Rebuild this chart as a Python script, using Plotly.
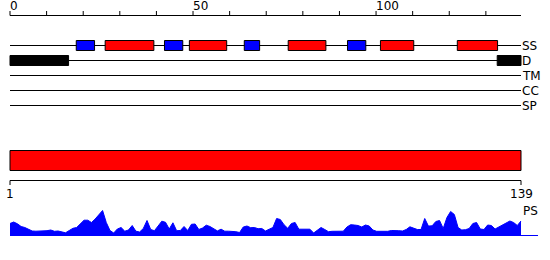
import plotly.graph_objects as go

# ---------------- data ----------------
seq_length = 139
ruler_end = 139.6
ruler_ticks = list(range(0, 140, 10))
ruler_labels = [0, 50, 100]
track_names = ["SS", "D", "TM", "CC", "SP"]

helix_start = [26.0, 49.0, 76.0, 101.2, 122.2]
helix_end = [39.3, 59.2, 86.3, 110.3, 133.2]
strand_start = [18.1, 42.2, 64.0, 92.2]
strand_end = [23.1, 47.2, 68.2, 97.2]
disorder_start = [0.0, 133.1]
disorder_end = [16.0, 139.6]

domain_start = [1]
domain_end = [139]
end_labels = [1, 139]

ps_residues = list(range(1, 140))
ps_values = [
    12, 13.5, 11.7, 9, 8, 6, 4.5, 4.3, 4.3, 4.3,
    4.8, 5.5, 4.2, 4.5, 3.7, 2.7, 5, 7.2, 8, 11.5,
    15.3, 15.3, 13, 16.5, 20.5, 25, 13, 5, 2.5, 6.5,
    8, 4.3, 5.5, 10, 4.3, 3.5, 7, 15, 6, 4.8,
    9.5, 14.3, 13.2, 6.5, 12.7, 4.8, 5, 9, 5, 11.2,
    11.5, 6, 7.5, 10.3, 9, 6.5, 4.6, 6.3, 4.3, 4.3,
    4.3, 3.8, 3, 8.5, 9.5, 7.8, 8, 6.8, 7, 4.5,
    6.3, 8, 17, 16, 10.8, 7.2, 12, 13, 6.3, 6.3,
    6.3, 6.3, 2.5, 5, 8, 6, 3.8, 4.2, 4.3, 4.3,
    4.3, 8.5, 10.8, 10.5, 10, 8.5, 10.5, 9.5, 5.5, 4.2,
    4, 3.7, 4.2, 5, 5.2, 4.8, 4.5, 6, 8.7, 7,
    6, 6, 17, 9.4, 9.7, 14, 15, 7, 18, 24,
    21, 8, 5.5, 5.8, 7, 12, 13, 6.5, 6, 10.5,
    10, 6.5, 8.5, 10.5, 12.5, 14.5, 13, 10, 14.5,
]

# ---------------- layout constants ----------------
W, H = 550, 260
X0 = 10.0                       # pixel of position 0 / residue 1
TOP_SCALE = 511.0 / ruler_end   # px per unit, top panel
BOT_SCALE = 511.0 / (seq_length - 1)
track_y = {"SS": 45.5, "D": 60.5, "TM": 75.5, "CC": 90.5, "SP": 105.5}
box_half = 5
ruler_y = 15.5
bar_top, bar_bot = 150.5, 170.5
bot_ruler_y = 180.5
ps_base_px = 235.5
FONT = dict(family="DejaVu Sans", size=12, color="#000000")

fig = go.Figure()

shapes = []
annotations = []

# top ruler
shapes.append(dict(type="line", xref="x", yref="y", x0=0, x1=ruler_end,
                   y0=ruler_y, y1=ruler_y, line=dict(color="black", width=1)))
for t in ruler_ticks:
    shapes.append(dict(type="line", xref="x", yref="y", x0=t, x1=t,
                       y0=ruler_y - 4.5, y1=ruler_y, line=dict(color="black", width=1)))
for t in ruler_labels:
    annotations.append(dict(x=t, y=6, xref="x", yref="y", text=str(t), showarrow=False,
                            xanchor="left", yanchor="middle", xshift=-2, font=FONT))

# track lines and labels
for name in track_names:
    y = track_y[name]
    shapes.append(dict(type="line", xref="x", yref="y", x0=0, x1=ruler_end, y0=y, y1=y,
                       line=dict(color="black", width=1), layer="below"))
    annotations.append(dict(x=ruler_end, y=y, xref="x", yref="y", text=name, showarrow=False,
                            xanchor="left", yanchor="middle", xshift=-1, font=FONT))

# secondary structure boxes
for s, e in zip(strand_start, strand_end):
    shapes.append(dict(type="rect", xref="x", yref="y", x0=s, x1=e,
                       y0=track_y["SS"] - box_half, y1=track_y["SS"] + box_half,
                       fillcolor="#0000ff", line=dict(color="black", width=1)))
for s, e in zip(helix_start, helix_end):
    shapes.append(dict(type="rect", xref="x", yref="y", x0=s, x1=e,
                       y0=track_y["SS"] - box_half, y1=track_y["SS"] + box_half,
                       fillcolor="#ff0000", line=dict(color="black", width=1)))
# disorder boxes
for s, e in zip(disorder_start, disorder_end):
    shapes.append(dict(type="rect", xref="x", yref="y", x0=s, x1=e,
                       y0=track_y["D"] - box_half, y1=track_y["D"] + box_half,
                       fillcolor="#000000", line=dict(color="black", width=1)))

# domain bar (bottom scale)
for s, e in zip(domain_start, domain_end):
    shapes.append(dict(type="rect", xref="x2", yref="y", x0=s, x1=e,
                       y0=bar_top, y1=bar_bot,
                       fillcolor="#ff0000", line=dict(color="black", width=1)))

# bottom ruler
shapes.append(dict(type="line", xref="x2", yref="y", x0=end_labels[0], x1=end_labels[1],
                   y0=bot_ruler_y, y1=bot_ruler_y, line=dict(color="black", width=1)))
for t in end_labels:
    shapes.append(dict(type="line", xref="x2", yref="y", x0=t, x1=t,
                       y0=bot_ruler_y, y1=bot_ruler_y + 4.5, line=dict(color="black", width=1)))
    annotations.append(dict(x=t, y=194, xref="x2", yref="y", text=str(t), showarrow=False,
                            xanchor="center", yanchor="middle", font=FONT))

# PS label
annotations.append(dict(x=seq_length, y=211, xref="x2", yref="y", text="PS", showarrow=False,
                        xanchor="left", yanchor="middle", xshift=0, font=FONT))

# PS baseline extension
shapes.append(dict(type="line", xref="x2", yref="y2", x0=1, x1=seq_length + 4.6,
                   y0=0, y1=0, line=dict(color="#0000ff", width=1)))

# PS profile
fig.add_trace(go.Scatter(x=ps_residues, y=ps_values, xaxis="x2", yaxis="y2",
                         mode="lines", fill="tozeroy", fillcolor="#0000ff",
                         line=dict(color="#0000ff", width=1), hoverinfo="skip",
                         showlegend=False))

fig.update_layout(
    width=W, height=H,
    margin=dict(l=0, r=0, t=0, b=0, pad=0),
    paper_bgcolor="white", plot_bgcolor="white",
    showlegend=False,
    xaxis=dict(range=[-X0 / TOP_SCALE, (W - X0) / TOP_SCALE], visible=False, fixedrange=True),
    xaxis2=dict(range=[1 - X0 / BOT_SCALE, 1 + (W - X0) / BOT_SCALE], visible=False,
                overlaying="x", fixedrange=True),
    yaxis=dict(range=[H, 0], visible=False, fixedrange=True),
    yaxis2=dict(range=[-(H - ps_base_px), ps_base_px], visible=False,
                overlaying="y", fixedrange=True),
    shapes=shapes,
    annotations=annotations,
)

fig.write_html("out.html", config={"displayModeBar": False})
